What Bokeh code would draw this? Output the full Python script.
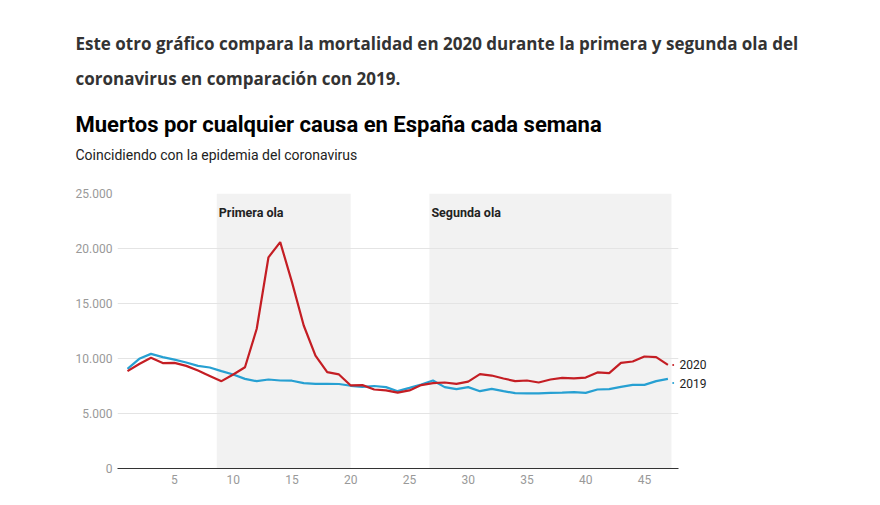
from bokeh.plotting import figure
from bokeh.models import Label, BoxAnnotation, FixedTicker, Title, LinearAxis
from bokeh.embed import file_html
from bokeh.resources import INLINE

# ---- data ----
weeks = list(range(1, 48))
deaths_2019 = [9060, 9970, 10420, 10120, 9900, 9640, 9330, 9180, 8850, 8550,
               8150, 7940, 8090, 8000, 7980, 7760, 7700, 7700, 7680, 7520,
               7420, 7500, 7400, 7030, 7330, 7640, 8000, 7400, 7210, 7400,
               7030, 7240, 7030, 6850, 6830, 6830, 6880, 6900, 6950, 6880,
               7180, 7210, 7420, 7600, 7600, 7940, 8150]
deaths_2020 = [8850, 9500, 10060, 9580, 9600, 9330, 8900, 8420, 7940, 8550,
               9200, 12700, 19200, 20580, 16940, 13000, 10270, 8760, 8550, 7550,
               7580, 7180, 7100, 6900, 7100, 7580, 7760, 7820, 7700, 7900,
               8580, 8450, 8180, 7940, 8000, 7820, 8090, 8240, 8200, 8270,
               8730, 8670, 9600, 9730, 10180, 10120, 9420]
series_names = ["2020", "2019"]
y_ticks = [0, 5000, 10000, 15000, 20000, 25000]
y_tick_labels = ["0", "5.000", "10.000", "15.000", "20.000", "25.000"]
x_ticks = [5, 10, 15, 20, 25, 30, 35, 40, 45]
wave_names = ["Primera ola", "Segunda ola"]
wave_starts = [8.6, 26.7]
wave_ends = [20.0, 47.3]
end_label_nudge = [0, -380]   # keeps the two end labels apart

header_lines = ["Este otro gráfico compara la mortalidad en 2020 durante la primera y segunda ola del",
                "coronavirus en comparación con 2019."]
chart_title = "Muertos por cualquier causa en España cada semana"
chart_subtitle = "Coincidiendo con la epidemia del coronavirus"

RED = "#c41e24"
BLUE = "#27a0d2"

p = figure(width=870, height=500, x_range=(0.15, 47.9), y_range=(0, 25000),
           output_backend="svg", toolbar_location=None, title=None,
           min_border_left=117, min_border_right=192,
           min_border_top=193, min_border_bottom=32)
p.outline_line_color = None

# shaded waves
for s, e in zip(wave_starts, wave_ends):
    p.add_layout(BoxAnnotation(left=s, right=e, bottom=y_ticks[0], top=y_ticks[-1],
                               fill_color="#f2f2f2", fill_alpha=1.0,
                               line_color=None, level="image"))

# axes
p.xaxis.ticker = FixedTicker(ticks=x_ticks)
p.yaxis.ticker = FixedTicker(ticks=y_ticks)
p.yaxis.major_label_overrides = {t: l for t, l in zip(y_ticks, y_tick_labels)}
for ax in (p.xaxis, p.yaxis):
    ax.major_tick_line_color = None
    ax.major_tick_in = 0
    ax.major_tick_out = 0
    ax.minor_tick_line_color = None
    ax.minor_tick_in = 0
    ax.minor_tick_out = 0
    ax.major_label_text_color = "#999999"
    ax.major_label_text_font = "Roboto"
    ax.major_label_text_font_size = "12px"
p.yaxis.axis_line_color = None
p.xaxis.axis_line_color = "#333333"
p.xaxis.axis_line_width = 1.2
p.xaxis.major_label_standoff = 6
p.yaxis.major_label_standoff = 5
p.xgrid.grid_line_color = None
p.ygrid.grid_line_color = "#e4e4e4"

# lines
p.line(weeks, deaths_2019, line_color=BLUE, line_width=2.2)
p.line(weeks, deaths_2020, line_color=RED, line_width=2.2)

# end labels as a right-hand axis, with small leader dots
end_vals = [deaths_2020[-1] + end_label_nudge[0], deaths_2019[-1] + end_label_nudge[1]]
p.scatter([weeks[-1] + 0.45] * 2, end_vals, size=2, color=[RED, BLUE], line_color=None)
rax = LinearAxis(ticker=FixedTicker(ticks=end_vals),
                 major_label_overrides={v: n for v, n in zip(end_vals, series_names)})
rax.axis_line_color = None
rax.major_tick_line_color = None
rax.major_tick_in = 0
rax.major_tick_out = 0
rax.minor_tick_line_color = None
rax.minor_tick_in = 0
rax.minor_tick_out = 0
rax.major_label_standoff = 1
rax.major_label_text_font = "Roboto"
rax.major_label_text_font_size = "12px"
rax.major_label_text_color = "#222222"
p.add_layout(rax, "right")

# wave labels
for name, s in zip(wave_names, wave_starts):
    p.add_layout(Label(x=s, y=y_ticks[-1], x_offset=2, y_offset=-19, text=name,
                       text_baseline="middle", text_font="Roboto",
                       text_font_size="12.5px", text_font_style="bold",
                       text_color="#222222"))

# header texts as stacked titles (first added = nearest the chart),
# separated by blank spacer titles
def spacer(h):
    return Title(text=" ", text_font_size="1px", standoff=max(h - 3.2, 0))

def head(text, font, size, style, color):
    return Title(text=text, align="left", offset=-42, standoff=0,
                 text_font=font, text_font_size=size, text_font_style=style,
                 text_color=color)

p.add_layout(spacer(31), "above")
p.add_layout(head(chart_subtitle, "Roboto", "14px", "normal", "#222222"), "above")
p.add_layout(spacer(8), "above")
p.add_layout(head(chart_title, "Roboto", "22px", "bold", "#000000"), "above")
p.add_layout(spacer(20), "above")
p.add_layout(head(header_lines[1], "Open Sans", "17px", "bold", "#333333"), "above")
p.add_layout(spacer(10), "above")
p.add_layout(head(header_lines[0], "Open Sans", "17px", "bold", "#333333"), "above")

open("out.html", "w").write(file_html(p, INLINE))
